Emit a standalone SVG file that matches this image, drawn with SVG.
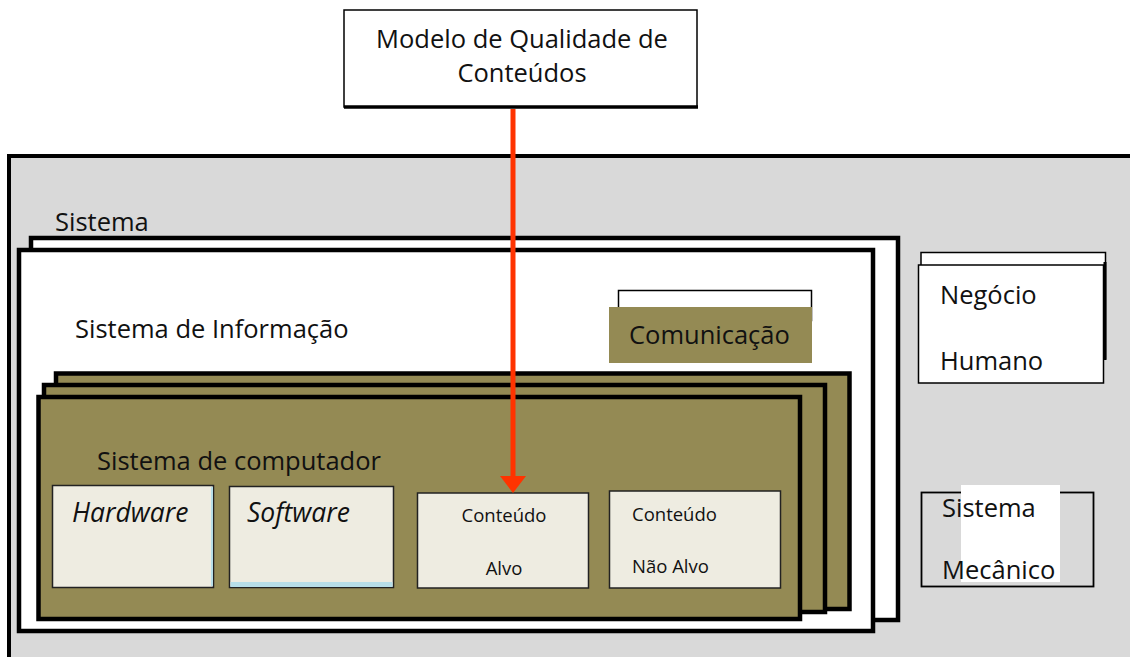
<svg xmlns="http://www.w3.org/2000/svg" width="1130" height="657" viewBox="0 0 1130 657">
<defs>
<style>
text{font-family:"Open Sans","Liberation Sans",sans-serif;fill:#111;}
.big{font-size:25.5px;}
.mid{font-size:25.5px;}
.sm{font-size:18.5px;}
.it{font-style:italic;font-size:26.5px;}
.thick{stroke:#000;stroke-width:4.5;}
.olive{fill:#948A54;}
.inner{fill:#EEECE1;stroke:#222;stroke-width:1.5;}
</style>
</defs>
<rect x="0" y="0" width="1130" height="657" fill="#fff"/>

<g id="ambiente">
<path d="M9,657 L9,156 L1132,156" fill="#D9D9D9" stroke="#000" stroke-width="4"/>
<rect x="11" y="158" width="1119" height="499" fill="#D9D9D9"/>
<text class="big" x="55" y="231">Sistema</text>
</g>

<g id="modelo">
<rect x="344" y="10" width="353" height="97" fill="#fff" stroke="#000" stroke-width="1.5"/>
<line x1="344" y1="107" x2="698" y2="107" stroke="#000" stroke-width="3.5"/>
<text class="big" x="522" y="48" text-anchor="middle">Modelo de Qualidade de</text>
<text class="big" x="522" y="82" text-anchor="middle">Conteúdos</text>
</g>

<g id="sistema">
<rect x="31" y="238" width="867" height="382" fill="#fff" class="thick"/>
<rect x="19" y="250" width="854" height="381" fill="#fff" class="thick"/>
<text class="mid" x="75" y="338">Sistema de Informação</text>
</g>

<g id="comunicacao">
<rect x="618.5" y="290.5" width="193" height="30" fill="#fff" stroke="#000" stroke-width="1.5"/>
<rect x="609" y="307" width="203" height="56" class="olive"/>
<text class="mid" x="629" y="344">Comunicação</text>
</g>

<g id="sistema-computador">
<rect x="56" y="373.5" width="793.5" height="235.5" class="olive thick"/>
<rect x="44" y="385" width="781" height="227" class="olive thick"/>
<rect x="38.5" y="397" width="761.5" height="222" class="olive thick"/>
<text class="mid" x="97" y="470">Sistema de computador</text>
</g>

<g id="hardware">
<rect x="52.5" y="485.5" width="161" height="102" class="inner"/>
<line x1="212" y1="487" x2="212" y2="586" stroke="#B7DEE8" stroke-width="2"/>
<text class="it" x="72" y="522">Hardware</text>
</g>

<g id="software">
<rect x="229.5" y="486.5" width="164" height="101" class="inner"/>
<rect x="230.5" y="582" width="162" height="5" fill="#B7DEE8"/>
<text class="it" x="247" y="522">Software</text>
</g>

<g id="conteudo-alvo">
<rect x="417.5" y="493" width="171" height="95" class="inner"/>
<text class="sm" x="504" y="522" text-anchor="middle">Conteúdo</text>
<text class="sm" x="504" y="575" text-anchor="middle">Alvo</text>
</g>

<g id="conteudo-nao-alvo">
<rect x="609.5" y="491" width="171" height="97" class="inner"/>
<text class="sm" x="632" y="521">Conteúdo</text>
<text class="sm" x="632" y="573">Não Alvo</text>
</g>

<g id="negocio-humano">
<rect x="921" y="252.5" width="184.5" height="106" fill="#fff" stroke="#000" stroke-width="1.5"/>
<line x1="1105" y1="262" x2="1105" y2="360" stroke="#000" stroke-width="3"/>
<rect x="918.5" y="265" width="185" height="118" fill="#fff" stroke="#000" stroke-width="1.5"/>
<text class="big" x="940" y="304">Negócio</text>
<text class="big" x="940" y="370">Humano</text>
</g>

<g id="sistema-mecanico">
<rect x="921.5" y="492.5" width="172" height="94" fill="none" stroke="#000" stroke-width="1.8"/>
<rect x="961" y="485" width="99" height="97" fill="#fff"/>
<text class="big" x="942" y="517">Sistema</text>
<text class="big" x="942" y="579">Mecânico</text>
</g>

<g id="conectores">
<line x1="513" y1="109" x2="513" y2="477" stroke="#FF3300" stroke-width="5"/>
<path d="M500,476 L526,476 L513,493 Z" fill="#FF3300"/>
</g>
</svg>
